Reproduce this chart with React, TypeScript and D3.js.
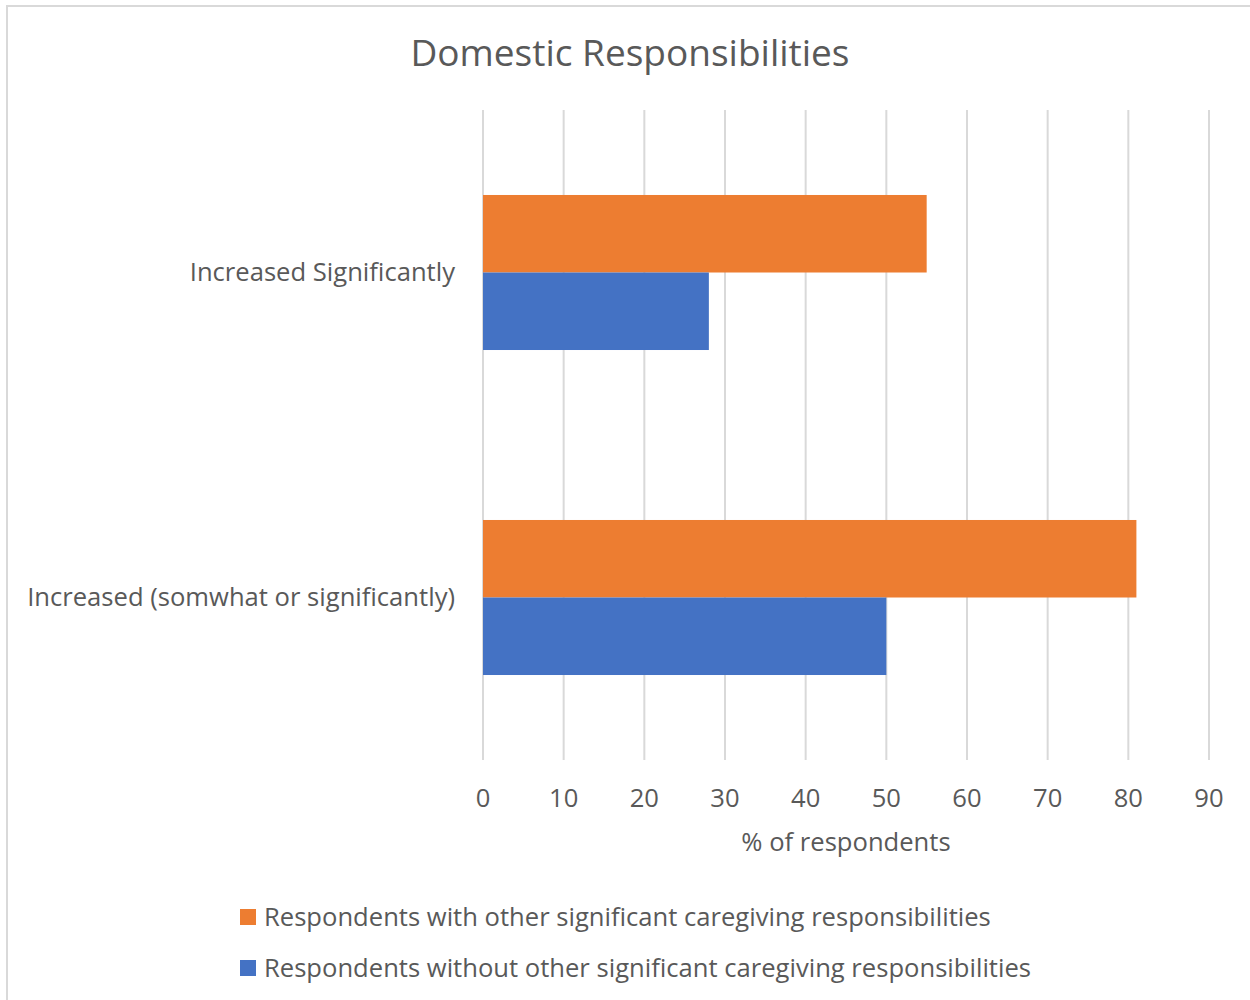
import React from "react";
import * as d3 from "d3";

const categories = ["Increased Significantly", "Increased (somwhat or significantly)"];
const seriesNames = [
  "Respondents with other significant caregiving responsibilities",
  "Respondents without other significant caregiving responsibilities",
];
const withCaregiving = [55, 81];
const withoutCaregiving = [28, 50];
const xTicks = [0, 10, 20, 30, 40, 50, 60, 70, 80, 90];
const colors = ["#ED7D31", "#4472C4"];

const W = 1250;
const H = 1000;
const FONT = "'Open Sans', 'Noto Sans', sans-serif";
const TEXT = "#595959";
const FS = 25.6;

export default function App() {
  const plot = { left: 483, right: 1209, top: 110, bottom: 760 };
  const x = d3.scaleLinear().domain([0, 90]).range([plot.left, plot.right]);
  const y = d3.scaleBand<string>().domain(categories).range([plot.top, plot.bottom]).paddingInner(0).paddingOuter(0);
  const band = y.bandwidth();
  const barH = band * 0.2385;
  const series = [withCaregiving, withoutCaregiving];

  return (
    <svg width={W} height={H} style={{ position: "absolute", left: 0, top: 0, background: "#fff" }}>
      <rect x={7} y={6} width={W + 10} height={H + 10} fill="#fff" stroke="#d9d9d9" strokeWidth={2} />
      <text x={630} y={51.5} textAnchor="middle" dominantBaseline="central" fontFamily={FONT} fontSize={37} fill={TEXT}>
        Domestic Responsibilities
      </text>
      {xTicks.map((t) => (
        <line key={t} x1={x(t)} x2={x(t)} y1={plot.top} y2={plot.bottom} stroke="#d9d9d9" strokeWidth={2} />
      ))}
      {categories.map((c, i) => {
        const cy = (y(c) as number) + band / 2;
        return (
          <g key={c}>
            {series.map((s, k) => (
              <rect
                key={k}
                x={x(0)}
                y={cy - barH + k * barH}
                width={x(s[i]) - x(0)}
                height={barH}
                fill={colors[k]}
              />
            ))}
            <text x={455} y={cy - 1.5} textAnchor="end" dominantBaseline="central" fontFamily={FONT} fontSize={FS} fill={TEXT}>
              {c}
            </text>
          </g>
        );
      })}
      {xTicks.map((t) => (
        <text key={t} x={x(t)} y={797} textAnchor="middle" dominantBaseline="central" fontFamily={FONT} fontSize={FS} fill={TEXT}>
          {t}
        </text>
      ))}
      <text x={(plot.left + plot.right) / 2} y={841} textAnchor="middle" dominantBaseline="central" fontFamily={FONT} fontSize={FS} fill={TEXT}>
        % of respondents
      </text>
      {seriesNames.map((n, k) => (
        <g key={n}>
          <rect x={240} y={909 + k * 51} width={16} height={16} fill={colors[k]} />
          <text x={264} y={916 + k * 51} dominantBaseline="central" fontFamily={FONT} fontSize={FS} fill={TEXT}>
            {n}
          </text>
        </g>
      ))}
    </svg>
  );
}
